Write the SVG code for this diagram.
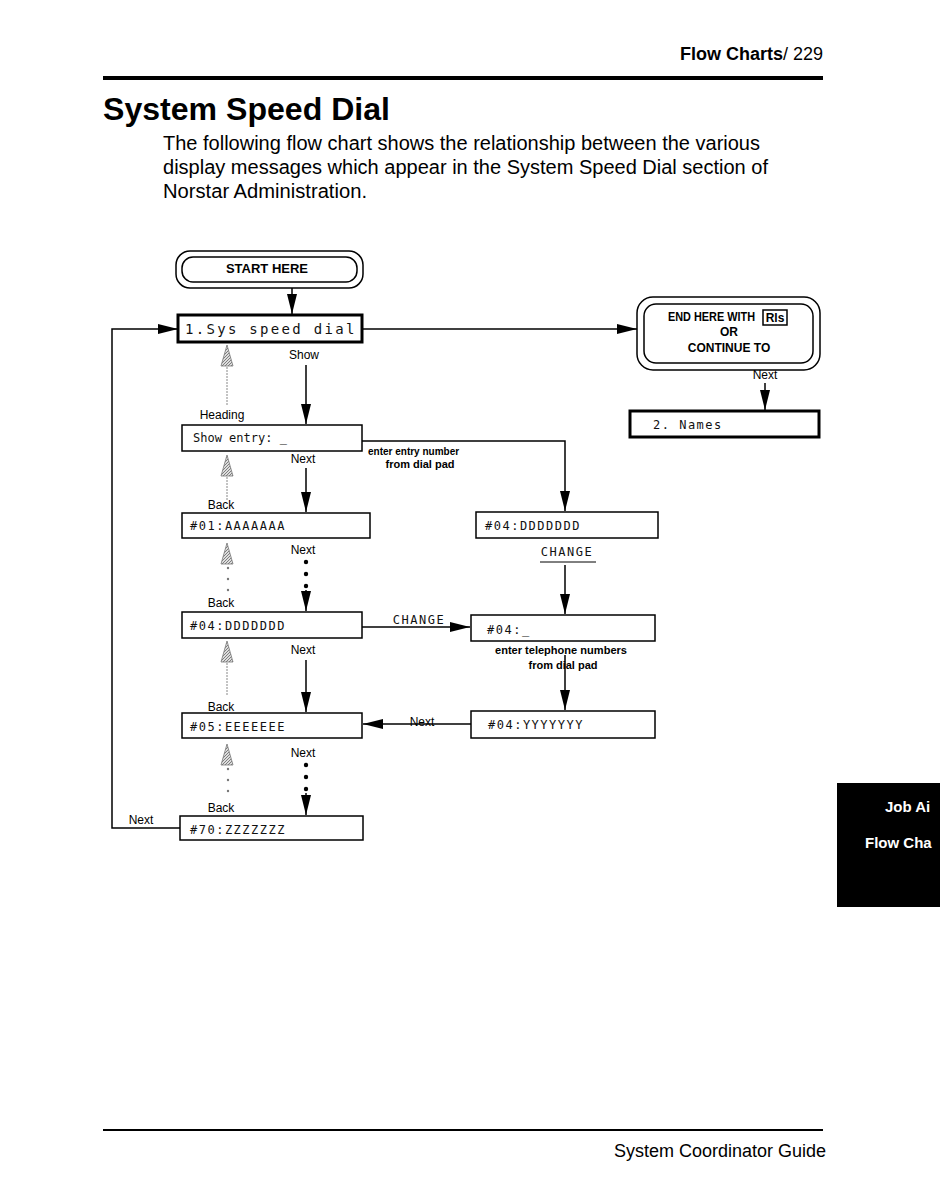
<svg xmlns="http://www.w3.org/2000/svg" width="940" height="1180" viewBox="0 0 940 1180">
<style>
.hdr{font-family:"Liberation Sans",Arial,sans-serif;fill:#000}
.lcd{font-family:"DejaVu Sans Mono","Liberation Mono",monospace;font-size:12px;fill:#111;letter-spacing:1.5px}
.lbl{font-family:"Liberation Sans",Arial,sans-serif;font-size:12px;fill:#000}
.lblb{font-family:"Liberation Sans",Arial,sans-serif;font-size:12px;font-weight:bold;fill:#000}
.box{fill:#fff;stroke:#000;stroke-width:1.5}
.tbox{fill:#fff;stroke:#000;stroke-width:3}
.ln{fill:none;stroke:#000;stroke-width:1.5}
.gl{fill:none;stroke:#888;stroke-width:1;stroke-dasharray:2 1}
.hatch{fill:url(#hp);stroke:#777;stroke-width:0.8}
</style>
<defs>
<marker id="ah" markerUnits="userSpaceOnUse" markerWidth="20" markerHeight="10" refX="20" refY="5" orient="auto">
<path d="M0,0 L20,5 L0,10 z" fill="#000"/>
</marker>
<pattern id="hp" width="3" height="3" patternUnits="userSpaceOnUse">
<rect width="3" height="3" fill="#ddd"/>
<path d="M0,3 L3,0" stroke="#666" stroke-width="0.8"/>
</pattern>
</defs>

<rect width="940" height="1180" fill="#fff"/>

<!-- page header -->
<text class="hdr" x="823" y="60" text-anchor="end" style="font-size:18px"><tspan font-weight="bold">Flow Charts</tspan>/ 229</text>
<rect x="103" y="76" width="720" height="4" fill="#000"/>
<text class="hdr" x="103" y="120" style="font-size:32px;font-weight:bold" textLength="287" lengthAdjust="spacingAndGlyphs">System Speed Dial</text>
<text class="hdr" x="163" y="150" style="font-size:19.5px" textLength="597" lengthAdjust="spacingAndGlyphs">The following flow chart shows the relationship between the various</text>
<text class="hdr" x="163" y="174" style="font-size:19.5px" textLength="605" lengthAdjust="spacingAndGlyphs">display messages which appear in the System Speed Dial section of</text>
<text class="hdr" x="163" y="198" style="font-size:19.5px" textLength="204" lengthAdjust="spacingAndGlyphs">Norstar Administration.</text>

<!-- connectors -->
<g id="connectors">
<line class="ln" x1="292" y1="287" x2="292" y2="314" marker-end="url(#ah)"/>
<line class="ln" x1="362" y1="329" x2="637" y2="329" marker-end="url(#ah)"/>
<path class="ln" d="M180,828 H112 V329 H178" marker-end="url(#ah)"/>
<line class="ln" x1="306" y1="365" x2="306" y2="424" marker-end="url(#ah)"/>
<path class="ln" d="M362,441 H565 V511" marker-end="url(#ah)"/>
<line class="ln" x1="306" y1="468" x2="306" y2="512" marker-end="url(#ah)"/>
<g fill="#000"><circle cx="306" cy="562" r="2.2"/><circle cx="306" cy="574" r="2.2"/><circle cx="306" cy="586" r="2.2"/></g>
<line class="ln" x1="306" y1="590" x2="306" y2="611" marker-end="url(#ah)"/>
<line class="ln" x1="362" y1="627" x2="470" y2="627" marker-end="url(#ah)"/>
<line class="ln" x1="565" y1="565" x2="565" y2="614" marker-end="url(#ah)"/>
<line class="ln" x1="565" y1="655" x2="565" y2="710" marker-end="url(#ah)"/>
<line class="ln" x1="471" y1="724" x2="363" y2="724" marker-end="url(#ah)"/>
<line class="ln" x1="306" y1="660" x2="306" y2="712" marker-end="url(#ah)"/>
<g fill="#000"><circle cx="306" cy="765" r="2.2"/><circle cx="306" cy="777" r="2.2"/><circle cx="306" cy="789" r="2.2"/></g>
<line class="ln" x1="306" y1="793" x2="306" y2="815" marker-end="url(#ah)"/>
<line class="ln" x1="765" y1="383" x2="765" y2="410" marker-end="url(#ah)"/>
<!-- hatched back arrows -->
<line class="gl" x1="227" y1="405" x2="227" y2="362"/>
<polygon class="hatch" points="227,345 221,366 233,366"/>
<line class="gl" x1="227" y1="500" x2="227" y2="472"/>
<polygon class="hatch" points="227,455 221,476 233,476"/>
<g fill="#777"><circle cx="228" cy="568" r="1.2"/><circle cx="228" cy="579" r="1.2"/><circle cx="228" cy="590" r="1.2"/></g>
<polygon class="hatch" points="227,543 221,564 233,564"/>
<line class="gl" x1="227" y1="695" x2="227" y2="658"/>
<polygon class="hatch" points="227,641 221,662 233,662"/>
<g fill="#777"><circle cx="228" cy="769" r="1.2"/><circle cx="228" cy="780" r="1.2"/><circle cx="228" cy="791" r="1.2"/></g>
<polygon class="hatch" points="227,744 221,765 233,765"/>
</g>

<!-- connector labels -->
<g id="labels">
<text class="lbl" x="304" y="359" text-anchor="middle">Show</text>
<text class="lbl" x="222" y="419" text-anchor="middle">Heading</text>
<text class="lblb" x="368" y="455" style="font-size:10px">enter entry number</text>
<text class="lblb" x="420" y="468" text-anchor="middle" style="font-size:11px">from dial pad</text>
<text class="lbl" x="303" y="463" text-anchor="middle">Next</text>
<text class="lbl" x="221" y="509" text-anchor="middle">Back</text>
<text class="lbl" x="303" y="554" text-anchor="middle">Next</text>
<text class="lbl" x="221" y="607" text-anchor="middle">Back</text>
<text class="lcd" x="419" y="624" text-anchor="middle">CHANGE</text>
<text class="lcd" x="567" y="556" text-anchor="middle">CHANGE</text>
<line x1="540" y1="562" x2="596" y2="562" stroke="#000" stroke-width="1"/>
<text class="lblb" x="561" y="654" text-anchor="middle" style="font-size:11px" textLength="132" lengthAdjust="spacingAndGlyphs">enter telephone numbers</text>
<text class="lblb" x="563" y="669" text-anchor="middle" style="font-size:11px">from dial pad</text>
<text class="lbl" x="303" y="654" text-anchor="middle">Next</text>
<text class="lbl" x="221" y="711" text-anchor="middle">Back</text>
<text class="lbl" x="422" y="726" text-anchor="middle">Next</text>
<text class="lbl" x="303" y="757" text-anchor="middle">Next</text>
<text class="lbl" x="221" y="812" text-anchor="middle">Back</text>
<text class="lbl" x="141" y="824" text-anchor="middle">Next</text>
<text class="lbl" x="765" y="379" text-anchor="middle">Next</text>
</g>

<!-- nodes -->
<g id="start">
<rect x="176" y="251" width="187" height="37" rx="14" fill="#fff" stroke="#000" stroke-width="1.5"/>
<rect x="182" y="257" width="175" height="25" rx="11" fill="#fff" stroke="#000" stroke-width="1.5"/>
<text class="lblb" x="267" y="273" text-anchor="middle" style="font-size:13px">START HERE</text>
</g>
<g id="sysspeed">
<rect class="tbox" x="178" y="315" width="184" height="27"/>
<text class="lcd" x="185" y="334" style="font-size:14px;letter-spacing:2.3px">1.Sys speed dial</text>
</g>
<g id="end">
<rect x="637" y="297" width="183" height="73" rx="16" fill="#fff" stroke="#000" stroke-width="1.5"/>
<rect x="644" y="304" width="169" height="59" rx="12" fill="#fff" stroke="#000" stroke-width="1.5"/>
<text class="lblb" x="668" y="321" textLength="87" lengthAdjust="spacingAndGlyphs">END HERE WITH</text>
<rect x="763" y="310" width="24" height="15" fill="none" stroke="#000" stroke-width="1.5"/>
<text class="lblb" x="775" y="322" text-anchor="middle">Rls</text>
<text class="lblb" x="729" y="336" text-anchor="middle">OR</text>
<text class="lblb" x="729" y="352" text-anchor="middle">CONTINUE TO</text>
</g>
<g id="names">
<rect class="tbox" x="630" y="411" width="189" height="26"/>
<text class="lcd" x="653" y="429">2. Names</text>
</g>
<g id="showentry">
<rect class="box" x="182" y="425" width="180" height="26"/>
<text class="lcd" x="193" y="442" style="letter-spacing:0px">Show entry: _</text>
</g>
<g id="e01">
<rect class="box" x="182" y="513" width="188" height="25"/>
<text class="lcd" x="190" y="530">#01:AAAAAAA</text>
</g>
<g id="e04right">
<rect class="box" x="476" y="512" width="182" height="26"/>
<text class="lcd" x="485" y="530">#04:DDDDDDD</text>
</g>
<g id="e04left">
<rect class="box" x="182" y="612" width="180" height="26"/>
<text class="lcd" x="190" y="630">#04:DDDDDDD</text>
</g>
<g id="e04blank">
<rect class="box" x="471" y="615" width="184" height="26"/>
<text class="lcd" x="487" y="634">#04:_</text>
</g>
<g id="e04y">
<rect class="box" x="471" y="711" width="184" height="27"/>
<text class="lcd" x="488" y="729">#04:YYYYYYY</text>
</g>
<g id="e05">
<rect class="box" x="182" y="713" width="180" height="25"/>
<text class="lcd" x="190" y="731">#05:EEEEEEE</text>
</g>
<g id="e70">
<rect class="box" x="180" y="816" width="183" height="24"/>
<text class="lcd" x="190" y="834">#70:ZZZZZZZ</text>
</g>

<!-- side tab -->
<rect x="837" y="783" width="103" height="124" fill="#000"/>
<text class="hdr" x="885" y="812" style="font-size:15px;font-weight:bold;fill:#fff">Job Ai</text>
<text class="hdr" x="865" y="848" style="font-size:15px;font-weight:bold;fill:#fff">Flow Cha</text>

<!-- footer -->
<rect x="103" y="1129" width="720" height="2" fill="#000"/>
<text class="hdr" x="826" y="1157" text-anchor="end" style="font-size:18px">System Coordinator Guide</text>
</svg>
